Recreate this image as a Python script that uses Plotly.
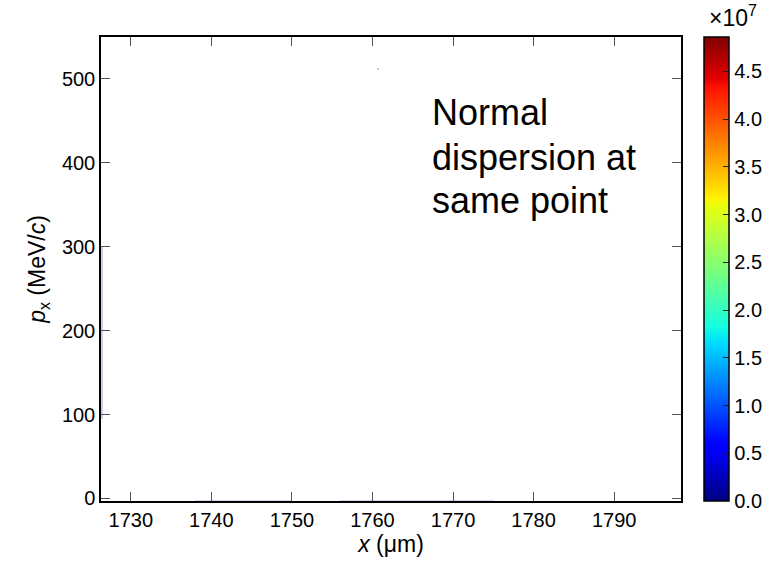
import numpy as np
import plotly.graph_objects as go

# ---- data ----
x_ticks = [1730, 1740, 1750, 1760, 1770, 1780, 1790]
y_ticks = [0, 100, 200, 300, 400, 500]
cbar_vals = [0.0, 0.5e7, 1.0e7, 1.5e7, 2.0e7, 2.5e7, 3.0e7, 3.5e7, 4.0e7, 4.5e7]
cbar_text = ["0.0", "0.5", "1.0", "1.5", "2.0", "2.5", "3.0", "3.5", "4.0", "4.5"]
z_max = 4.86e7

# sparse, barely visible phase-space density (x in um, px in MeV/c, density)
seg_x0 = [1726.35, 1738.0, 1756.0, 1760.6]
seg_x1 = [1726.45, 1750.0, 1775.0, 1760.7]
seg_y0 = [95.0, -3.0, -3.0, 511.0]
seg_y1 = [300.0, -2.0, -2.0, 512.5]
seg_val = [4.0e5, 6.0e5, 6.0e5, 8.0e5]

x_range = [1726.3, 1798.3]
y_range = [-3, 550]

# ---- build grid ----
dx, dy = 0.125, 1.2
xc = np.arange(x_range[0] + dx / 2, x_range[1], dx)
yc = np.arange(y_range[0] + dy / 2, y_range[1], dy)
z = np.full((len(yc), len(xc)), np.nan)
for a, b, c, d, v in zip(seg_x0, seg_x1, seg_y0, seg_y1, seg_val):
    mx = (xc >= a - dx / 2) & (xc <= b + dx / 2)
    my = (yc >= c - dy / 2) & (yc <= d + dy / 2)
    z[np.ix_(my, mx)] = v

jet = [
    [0.0, "rgb(0,0,128)"], [0.11, "rgb(0,0,255)"], [0.125, "rgb(0,0,255)"],
    [0.34, "rgb(0,219,255)"], [0.35, "rgb(0,229,246)"], [0.375, "rgb(20,255,226)"],
    [0.5, "rgb(124,255,121)"], [0.64, "rgb(236,255,10)"], [0.65, "rgb(255,245,0)"],
    [0.66, "rgb(255,234,0)"], [0.89, "rgb(255,18,0)"], [0.91, "rgb(228,0,0)"],
    [1.0, "rgb(128,0,0)"],
]

font = "Liberation Sans, Arial, sans-serif"

fig = go.Figure()
fig.add_trace(go.Heatmap(
    x=xc, y=yc, z=z, zmin=0, zmax=z_max, colorscale=jet, opacity=0.2,
    hoverongaps=False,
    colorbar=dict(
        x=1.039, xanchor="left", y=0.5, yanchor="middle",
        len=1.0, lenmode="fraction", thickness=25, thicknessmode="pixels",
        xpad=0, ypad=0, outlinewidth=1.5, outlinecolor="black",
        tickvals=cbar_vals, ticktext=cbar_text, ticks="inside", ticklen=6,
        tickcolor="#222", tickfont=dict(family=font, size=20, color="black"),
    ),
))

axis_common = dict(
    showgrid=False, zeroline=False, showline=True, linecolor="black", linewidth=1.5,
    mirror="ticks", ticks="inside", ticklen=9, tickcolor="#555", tickwidth=1,
    tickfont=dict(family=font, size=20, color="black"),
)

fig.update_layout(
    width=781, height=565,
    margin=dict(l=101, r=96, t=37, b=64),
    paper_bgcolor="white", plot_bgcolor="white",
    xaxis=dict(range=x_range, tickvals=x_ticks,
               title=dict(text="<i>x</i> (μm)", font=dict(family=font, size=23, color="black"), standoff=2),
               **axis_common),
    yaxis=dict(range=y_range, tickvals=y_ticks,
               title=dict(text="<i>p</i><sub>x</sub> (MeV/<i>c</i>)", font=dict(family=font, size=23, color="black"), standoff=10),
               **axis_common),
    annotations=[
        dict(text="Normal", x=0.567, y=0.838, xref="paper", yref="paper", xanchor="left", yanchor="middle",
             showarrow=False, font=dict(family=font, size=36, color="black")),
        dict(text="dispersion at", x=0.567, y=0.741, xref="paper", yref="paper", xanchor="left", yanchor="middle",
             showarrow=False, font=dict(family=font, size=36, color="black")),
        dict(text="same point", x=0.567, y=0.647, xref="paper", yref="paper", xanchor="left", yanchor="middle",
             showarrow=False, font=dict(family=font, size=36, color="black")),
        dict(text="×10<sup>7</sup>", x=1.045, y=1.045, xref="paper", yref="paper", xanchor="left", yanchor="middle",
             showarrow=False, font=dict(family=font, size=23, color="black")),
    ],
)

fig.write_html("out.html")
